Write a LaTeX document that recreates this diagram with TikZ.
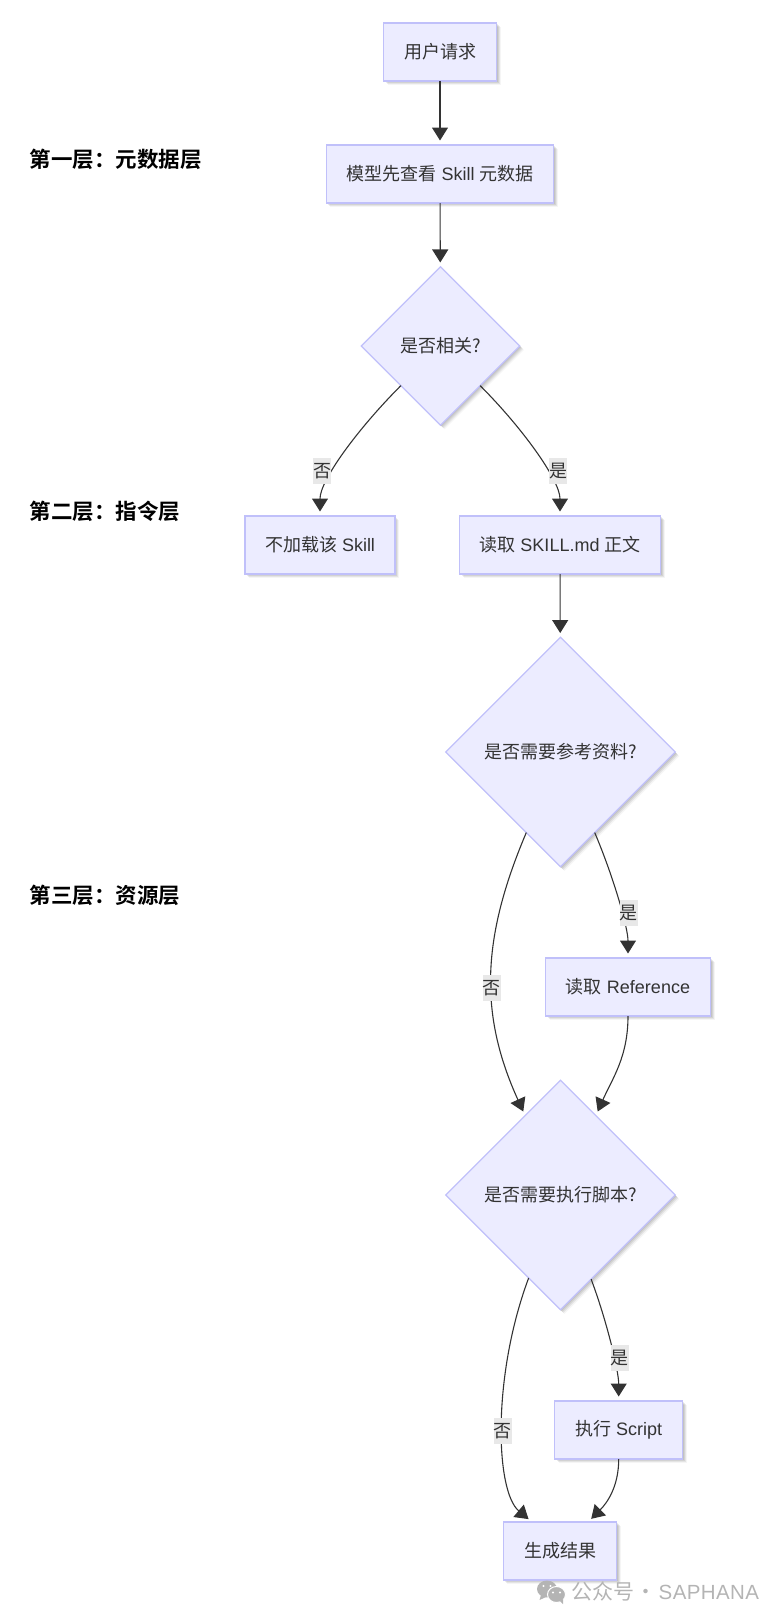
\documentclass[tikz,border=0pt]{standalone}
\usepackage{fontspec}
\setmainfont{Liberation Sans}
\newfontfamily\cjk{Noto Sans CJK SC}
\newfontfamily\cjkbold[BoldFont={Noto Sans CJK SC Bold}]{Noto Sans CJK SC}
\newfontfamily\markfont[LetterSpace=2]{Liberation Sans}
\usetikzlibrary{arrows.meta,shapes.geometric,shadows}

\definecolor{nodefill}{HTML}{ECECFF}
\definecolor{nodeline}{HTML}{C0C0FA}
\definecolor{edgeline}{HTML}{333333}
\definecolor{labelfill}{HTML}{E8E8E8}
\definecolor{markgray}{HTML}{B4B4B4}

\newcommand{\widecolon}{\symbol{"FF1A}}

\tikzset{
    softshadow/.style={
        general shadow={shadow xshift=4pt,shadow yshift=-4pt,opacity=.04,fill=black},
        general shadow={shadow xshift=3pt,shadow yshift=-3pt,opacity=.07,fill=black},
        general shadow={shadow xshift=2pt,shadow yshift=-2pt,opacity=.08,fill=black},
        general shadow={shadow xshift=1pt,shadow yshift=-1pt,opacity=.08,fill=black}},
    box/.style={shape=rectangle,draw=nodeline,fill=nodefill,line width=1.2pt,
        minimum height=58pt,inner sep=0pt,outer sep=0pt,text=edgeline,
        font=\fontsize{18}{20}\selectfont,softshadow},
    choice/.style={shape=diamond,draw=nodeline,fill=nodefill,line width=1.2pt,
        shape aspect=1,inner sep=0pt,outer sep=0pt,text=edgeline,
        font=\fontsize{18}{20}\selectfont,softshadow},
    answer/.style={fill=labelfill,text=edgeline,inner sep=0pt,minimum width=18pt,
        minimum height=26pt,font=\fontsize{18}{20}\selectfont\cjk},
    layer/.style={anchor=west,text=black,font=\fontsize{21.5}{24}\selectfont\cjkbold\bfseries},
    flow/.style={-{Triangle[length=13pt,width=16pt]},draw=edgeline,
        line width=1.1pt,shorten >=4.5pt},
}

\begin{document}
\begin{tikzpicture}[x=1pt,y=-1pt]
    \useasboundingbox (0,0) rectangle (784,1622);

    \node[layer] (LayerOne) at (26,159) {第一层\widecolon 元数据层};
    \node[layer] (LayerTwo) at (26,511) {第二层\widecolon 指令层};
    \node[layer] (LayerThree) at (26,895) {第三层\widecolon 资源层};

    \node[box,minimum width=113pt] (Request) at (440,52) {\cjk 用户请求};
    \node[box,minimum width=227.5pt] (Metadata) at (440,174) {{\cjk 模型先查看} Skill {\cjk 元数据}};
    \node[choice,minimum width=158.5pt,minimum height=158.5pt] (Relevant) at (440.5,346) {\cjk 是否相关?};
    \node[box,minimum width=150pt] (Skip) at (320,545) {{\cjk 不加载该} Skill};
    \node[box,minimum width=201pt] (ReadSkill) at (560,545) {{\cjk 读取} SKILL.md {\cjk 正文}};
    \node[choice,minimum width=229.5pt,minimum height=229.5pt] (NeedRef) at (560.5,752) {\cjk 是否需要参考资料?};
    \node[box,minimum width=165pt] (ReadRef) at (628,987) {{\cjk 读取} Reference};
    \node[choice,minimum width=229.5pt,minimum height=229.5pt] (NeedScript) at (560.5,1195) {\cjk 是否需要执行脚本?};
    \node[box,minimum width=128pt] (RunScript) at (618.7,1430) {{\cjk 执行} Script};
    \node[box,minimum width=113.4pt] (Result) at (560,1551) {\cjk 生成结果};

    \path (Request) edge[flow] (Metadata);
    \path (Metadata) edge[flow] (Relevant);
    \path (Relevant.south west) edge[flow,out=225,in=90,out looseness=1,in looseness=.6] node[answer,pos=.63,xshift=-12pt] (LabelSkip) {否} (Skip);
    \path (Relevant.south east) edge[flow,out=-45,in=90,out looseness=1,in looseness=.6] node[answer,pos=.63,xshift=12pt] (LabelRead) {是} (ReadSkill);
    \path (ReadSkill) edge[flow] (NeedRef);
    \path (NeedRef.247) edge[flow,out=247,in=114.5,looseness=1.02] node[answer,pos=.55] (LabelNoRef) {否} (NeedScript.114.5);
    \path (NeedRef.293) edge[flow,out=293,in=90,out looseness=.95,in looseness=.6] node[answer,pos=.6,xshift=7pt] (LabelRef) {是} (ReadRef);
    \path (ReadRef) edge[flow,out=270,in=66] (NeedScript.66);
    \path (NeedScript.249.5) edge[flow,out=249.5,in=140,out looseness=1.1,in looseness=.5] node[answer,pos=.52] (LabelNoScript) {否} (Result.134);
    \path (NeedScript.290.5) edge[flow,out=290.5,in=90,out looseness=.95,in looseness=.6] node[answer,pos=.6,xshift=6pt] (LabelScript) {是} (RunScript);
    \path (RunScript) edge[flow,out=270,in=45] (Result.46);

    % watermark
    \fill[markgray] (547,1589) ellipse (10pt and 8.5pt);
    \fill[markgray] (541,1595) -- (539.5,1600) -- (546,1597) -- cycle;
    \filldraw[fill=markgray,draw=white,line width=1pt] (556.5,1594.5) ellipse (9pt and 8pt);
    \fill[markgray] (560,1601) -- (563,1604) -- (563,1599) -- cycle;
    \foreach \px/\py in {543.5/1586,550.5/1586,553/1592.5,560/1592.5}
        \fill[white] (\px,\py) circle (1.2pt);
    \node[anchor=west,inner sep=0pt,text=markgray] (Mark) at (571.5,1591.5)
        {\fontsize{21}{24}\selectfont{\cjk 公众号}\hspace{1pt}{\cjk ·}\hspace{2pt}{\fontsize{20.5}{24}\selectfont\markfont SAPHANA}};
\end{tikzpicture}
\end{document}
